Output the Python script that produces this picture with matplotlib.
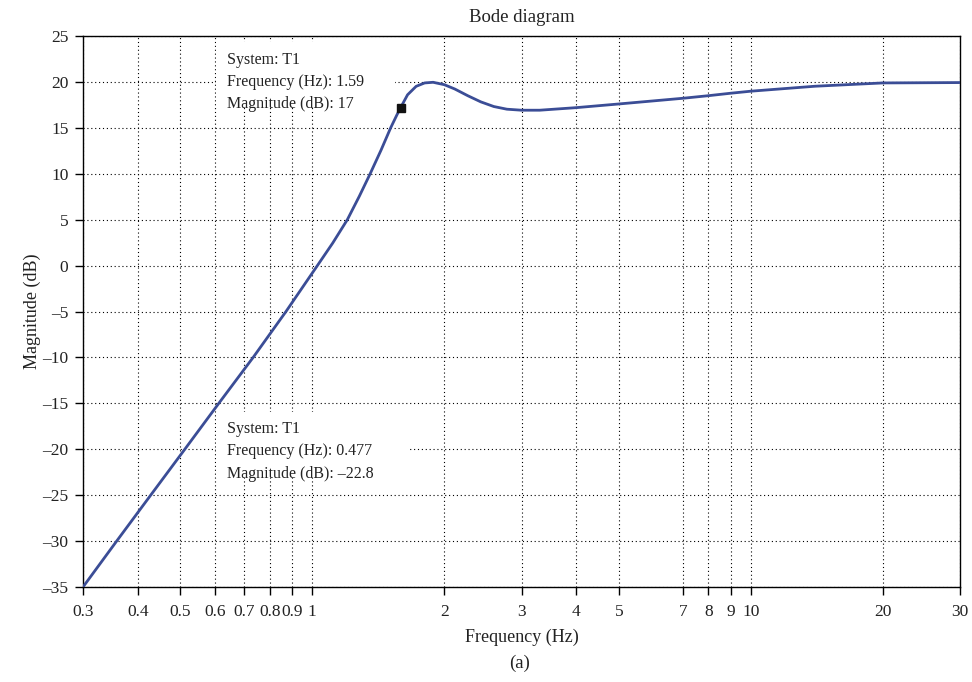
import matplotlib.pyplot as plt
from matplotlib.patches import Rectangle

# magnitude response
freq = [0.3, 0.358, 0.428, 0.512, 0.612, 0.733, 0.871, 1.027, 1.113, 1.202, 1.28,
        1.355, 1.434, 1.509, 1.559, 1.59, 1.649, 1.725, 1.804, 1.886, 2.0, 2.113,
        2.262, 2.422, 2.594, 2.778, 3.0, 3.3, 4, 5, 7, 8, 9, 10, 14, 20, 30]
mag = [-35, -30, -25, -20, -15, -10, -5, 0, 2.45, 5, 7.55,
       10, 12.55, 15, 16.4, 17.2, 18.6, 19.52, 19.89, 19.96, 19.7, 19.23,
       18.5, 17.83, 17.32, 17.03, 16.92, 16.92, 17.2, 17.6, 18.22, 18.5, 18.77, 18.99,
       19.53, 19.89, 19.93]

xticks = [0.3, 0.4, 0.5, 0.6, 0.7, 0.8, 0.9, 1, 2, 3, 4, 5, 7, 8, 9, 10, 20, 30]
xlabels = ['0.3', '0.4', '0.5', '0.6', '0.7', '0.8', '0.9', '1', '2', '3', '4', '5',
           '7', '8', '9', '10', '20', '30']
yticks = [25, 20, 15, 10, 5, 0, -5, -10, -15, -20, -25, -30, -35]

tip_freq = 1.59
tip_mag = 17.2
tip1 = "System: T1\nFrequency (Hz): 1.59\nMagnitude (dB): 17"
tip2 = "System: T1\nFrequency (Hz): 0.477\nMagnitude (dB): \u201322.8"

plt.rcParams['font.family'] = ['Liberation Serif', 'DejaVu Serif']
txt = '#222222'

fig = plt.figure(figsize=(9.72, 6.82), dpi=100)
ax = fig.add_axes([0.0854, 0.1393, 0.9023, 0.8079])

ax.set_xscale('log')
ax.set_xlim(0.3, 30)
ax.set_ylim(-35, 25)
ax.set_xticks(xticks)
ax.set_xticklabels(xlabels)
ax.minorticks_off()
ax.set_yticks(yticks)
ax.set_yticklabels([str(v).replace('-', '\u2013') for v in yticks])
ax.tick_params(direction='out', length=5.5, width=1, colors='black', labelcolor=txt,
               labelsize=12.5, top=False, right=False)
ax.tick_params(axis='x', pad=7)
ax.tick_params(axis='y', pad=5)
ax.grid(True, color='black', linestyle=(0, (1, 2.5)), linewidth=0.8)
ax.set_axisbelow(True)
for s in ax.spines.values():
    s.set_linewidth(1.0)

# datatip boxes hide the grid
ax.add_patch(Rectangle((0.604, 17.16), 1.54 - 0.604, 24.35 - 17.16,
                       facecolor='white', edgecolor='none', zorder=1.5))
ax.add_patch(Rectangle((0.604, -23.13), 1.66 - 0.604, -15.96 + 23.13,
                       facecolor='white', edgecolor='none', zorder=1.5))

ax.plot(freq, mag, color='#3b4d96', linewidth=2, zorder=3)
ax.plot([tip_freq], [tip_mag], marker='s', color='#111111', markersize=5.5, zorder=4)

ax.text(0.64, 23.3, tip1, va='top', ha='left', fontsize=11.5, color=txt,
        linespacing=1.52, zorder=2)
ax.text(0.64, -16.95, tip2, va='top', ha='left', fontsize=11.5, color=txt,
        linespacing=1.52, zorder=2)

ax.set_title('Bode diagram', fontsize=13.5, color=txt, pad=10)
ax.set_xlabel('Frequency (Hz)', fontsize=13, color=txt, labelpad=6)
ax.set_ylabel('Magnitude (dB)', fontsize=13, color=txt, labelpad=1)
fig.text(0.535, 0.028, '(a)', ha='center', va='center', fontsize=13.5, color=txt)

fig.savefig('out.png', dpi=100)
